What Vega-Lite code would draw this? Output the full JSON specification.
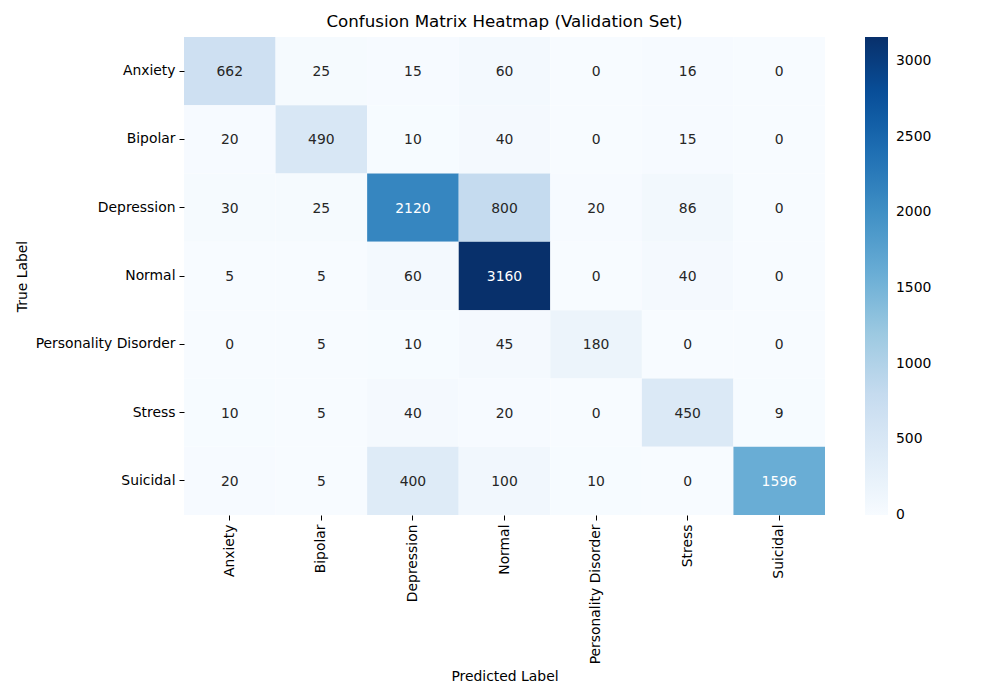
{
  "$schema": "https://vega.github.io/schema/vega-lite/v6.json",
  "autosize": {"type": "none"},
  "width": 641,
  "height": 478,
  "padding": {"left": 184, "top": 37, "right": 175, "bottom": 185},
  "background": "white",
  "title": {"text": "Confusion Matrix Heatmap (Validation Set)", "font": "DejaVu Sans", "fontSize": 16.7, "fontWeight": "normal", "color": "#000000", "anchor": "middle", "offset": 6},
  "config": {
    "view": {"stroke": null},
    "font": "DejaVu Sans",
    "axis": {"labelFont": "DejaVu Sans", "titleFont": "DejaVu Sans", "labelFontSize": 13.9, "titleFontSize": 13.9, "titleFontWeight": "normal", "labelColor": "#000000", "titleColor": "#000000", "tickColor": "#000000", "tickSize": 5, "labelPadding": 4, "domain": false, "grid": false},
    "legend": {"labelFont": "DejaVu Sans", "labelFontSize": 13.9, "labelColor": "#000000"}
  },
  "data": {"values": [
    {"true": "Anxiety", "pred": "Anxiety", "n": 662},
    {"true": "Anxiety", "pred": "Bipolar", "n": 25},
    {"true": "Anxiety", "pred": "Depression", "n": 15},
    {"true": "Anxiety", "pred": "Normal", "n": 60},
    {"true": "Anxiety", "pred": "Personality Disorder", "n": 0},
    {"true": "Anxiety", "pred": "Stress", "n": 16},
    {"true": "Anxiety", "pred": "Suicidal", "n": 0},
    {"true": "Bipolar", "pred": "Anxiety", "n": 20},
    {"true": "Bipolar", "pred": "Bipolar", "n": 490},
    {"true": "Bipolar", "pred": "Depression", "n": 10},
    {"true": "Bipolar", "pred": "Normal", "n": 40},
    {"true": "Bipolar", "pred": "Personality Disorder", "n": 0},
    {"true": "Bipolar", "pred": "Stress", "n": 15},
    {"true": "Bipolar", "pred": "Suicidal", "n": 0},
    {"true": "Depression", "pred": "Anxiety", "n": 30},
    {"true": "Depression", "pred": "Bipolar", "n": 25},
    {"true": "Depression", "pred": "Depression", "n": 2120},
    {"true": "Depression", "pred": "Normal", "n": 800},
    {"true": "Depression", "pred": "Personality Disorder", "n": 20},
    {"true": "Depression", "pred": "Stress", "n": 86},
    {"true": "Depression", "pred": "Suicidal", "n": 0},
    {"true": "Normal", "pred": "Anxiety", "n": 5},
    {"true": "Normal", "pred": "Bipolar", "n": 5},
    {"true": "Normal", "pred": "Depression", "n": 60},
    {"true": "Normal", "pred": "Normal", "n": 3160},
    {"true": "Normal", "pred": "Personality Disorder", "n": 0},
    {"true": "Normal", "pred": "Stress", "n": 40},
    {"true": "Normal", "pred": "Suicidal", "n": 0},
    {"true": "Personality Disorder", "pred": "Anxiety", "n": 0},
    {"true": "Personality Disorder", "pred": "Bipolar", "n": 5},
    {"true": "Personality Disorder", "pred": "Depression", "n": 10},
    {"true": "Personality Disorder", "pred": "Normal", "n": 45},
    {"true": "Personality Disorder", "pred": "Personality Disorder", "n": 180},
    {"true": "Personality Disorder", "pred": "Stress", "n": 0},
    {"true": "Personality Disorder", "pred": "Suicidal", "n": 0},
    {"true": "Stress", "pred": "Anxiety", "n": 10},
    {"true": "Stress", "pred": "Bipolar", "n": 5},
    {"true": "Stress", "pred": "Depression", "n": 40},
    {"true": "Stress", "pred": "Normal", "n": 20},
    {"true": "Stress", "pred": "Personality Disorder", "n": 0},
    {"true": "Stress", "pred": "Stress", "n": 450},
    {"true": "Stress", "pred": "Suicidal", "n": 9},
    {"true": "Suicidal", "pred": "Anxiety", "n": 20},
    {"true": "Suicidal", "pred": "Bipolar", "n": 5},
    {"true": "Suicidal", "pred": "Depression", "n": 400},
    {"true": "Suicidal", "pred": "Normal", "n": 100},
    {"true": "Suicidal", "pred": "Personality Disorder", "n": 10},
    {"true": "Suicidal", "pred": "Stress", "n": 0},
    {"true": "Suicidal", "pred": "Suicidal", "n": 1596}
  ]},
  "encoding": {
    "x": {"field": "pred", "type": "nominal", "sort": ["Anxiety", "Bipolar", "Depression", "Normal", "Personality Disorder", "Stress", "Suicidal"], "scale": {"paddingInner": 0, "paddingOuter": 0}, "axis": {"title": "Predicted Label", "labelAngle": 270, "labelAlign": "right", "labelBaseline": "middle", "titlePadding": 6}},
    "y": {"field": "true", "type": "nominal", "sort": ["Anxiety", "Bipolar", "Depression", "Normal", "Personality Disorder", "Stress", "Suicidal"], "scale": {"paddingInner": 0, "paddingOuter": 0}, "axis": {"title": "True Label", "titlePadding": 6}}
  },
  "layer": [
    {
      "mark": {"type": "rect"},
      "encoding": {
        "color": {"field": "n", "type": "quantitative",
          "scale": {"domain": [0, 395, 790, 1185, 1580, 1975, 2370, 2765, 3160], "range": ["#f7fbff", "#deebf7", "#c6dbef", "#9ecae1", "#6baed6", "#4292c6", "#2171b5", "#08519c", "#08306b"], "interpolate": "rgb"},
          "legend": {"title": null, "orient": "right", "offset": 40, "gradientLength": 478, "gradientThickness": 23, "values": [0, 500, 1000, 1500, 2000, 2500, 3000], "format": "d", "labelOverlap": false, "labelOffset": 8, "gradientStrokeWidth": 0,
            "encode": {"labels": {"update": {"baseline": {"value": "middle"}}}}}}
      }
    },
    {
      "mark": {"type": "text", "font": "DejaVu Sans", "fontSize": 13.9, "dy": 1},
      "encoding": {
        "text": {"field": "n", "type": "quantitative"},
        "color": {"condition": {"test": "datum.n > 1500", "value": "#ffffff"}, "value": "#262626"}
      }
    }
  ]
}
